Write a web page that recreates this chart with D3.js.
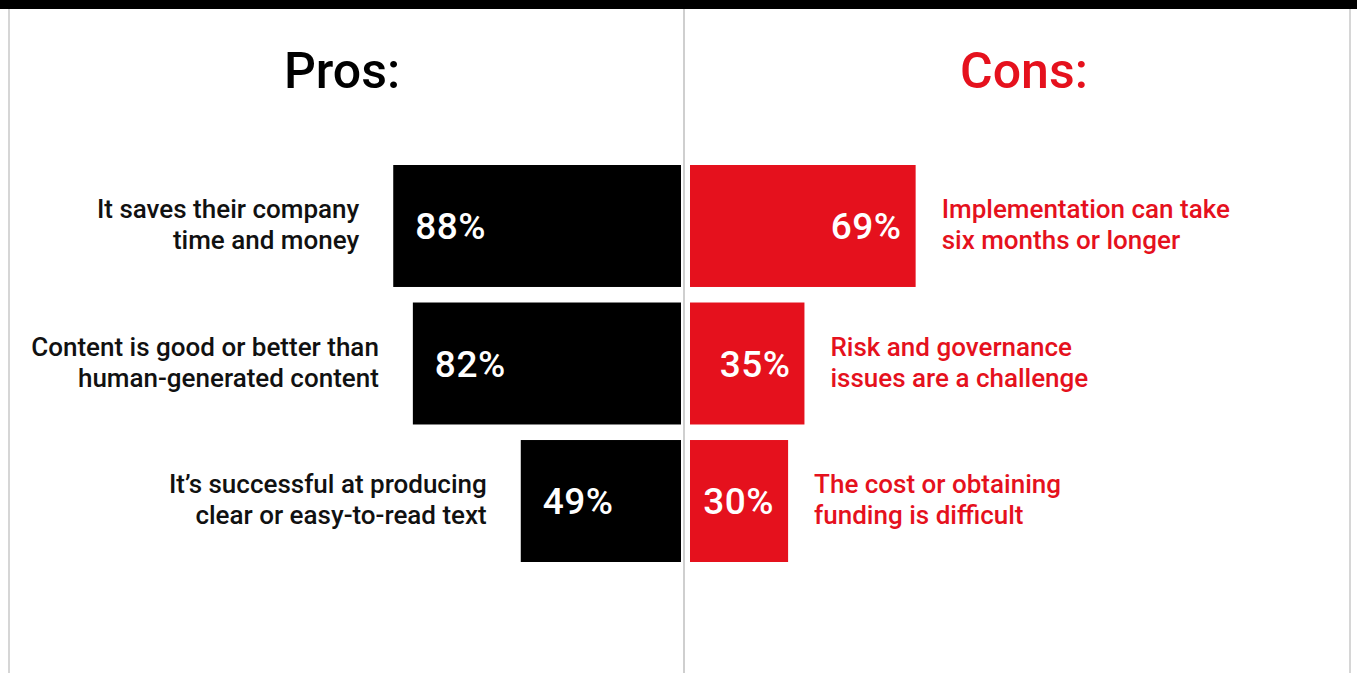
<!DOCTYPE html>
<html>
<head>
<meta charset="utf-8">
<script src="https://cdn.jsdelivr.net/npm/d3@7"></script>
<style>
  body { margin: 0; background: #fff; }
  svg { display: block; font-family: Roboto, "Noto Sans", sans-serif; }
</style>
</head>
<body>
<svg id="chart" width="1357" height="673"></svg>
<script>
// data
const prosLabels = [
  ["It saves their company", "time and money"],
  ["Content is good or better than", "human-generated content"],
  ["It\u2019s successful at producing", "clear or easy-to-read text"],
];
const prosValues = [88, 82, 49];

const consLabels = [
  ["Implementation can take", "six months or longer"],
  ["Risk and governance", "issues are a challenge"],
  ["The cost or obtaining", "funding is difficult"],
];
const consValues = [69, 35, 30];

const rows = [0, 1, 2];

const svg = d3.select("#chart");
const width = +svg.attr("width");
const height = +svg.attr("height");

const RED = "#e5111d";
const mid = 684;

// frame
svg.append("rect").attr("x", 0).attr("y", 0).attr("width", width).attr("height", 9).attr("fill", "#000");
svg.append("line").attr("x1", 9).attr("x2", 9).attr("y1", 9).attr("y2", height)
  .attr("stroke", "#d6d6d6").attr("stroke-width", 2);
svg.append("line").attr("x1", 1350).attr("x2", 1350).attr("y1", 9).attr("y2", height)
  .attr("stroke", "#d6d6d6").attr("stroke-width", 2);
svg.append("line").attr("x1", mid).attr("x2", mid).attr("y1", 9).attr("y2", height)
  .attr("stroke", "#cfcfcf").attr("stroke-width", 2);

// titles
svg.append("text").attr("x", 342).attr("y", 88).attr("text-anchor", "middle")
  .attr("font-size", 50).attr("font-weight", 500).attr("fill", "#000").text("Pros:");
svg.append("text").attr("x", 1024).attr("y", 88).attr("text-anchor", "middle")
  .attr("font-size", 50).attr("font-weight", 500).attr("fill", RED).text("Cons:");

// scales
const y = d3.scaleBand().domain(rows).range([165, 562]).paddingInner(0.113);
const x = d3.scaleLinear().domain([0, 100]).range([0, 327]);

const prosRight = 681;
const consLeft = 690;

// pros bars
const pros = svg.append("g").attr("class", "pros")
  .selectAll("g").data(rows).enter().append("g");

pros.append("rect")
  .attr("x", (i) => prosRight - x(prosValues[i]))
  .attr("y", (i) => y(i))
  .attr("width", (i) => x(prosValues[i]))
  .attr("height", y.bandwidth())
  .attr("fill", "#000");

pros.append("text")
  .attr("x", (i) => prosRight - x(prosValues[i]) + 22)
  .attr("y", (i) => y(i) + y.bandwidth() / 2 + 13)
  .attr("font-size", 37).attr("font-weight", 500).attr("letter-spacing", 0.5).attr("fill", "#fff")
  .text((i) => prosValues[i] + "%");

pros.append("text")
  .attr("text-anchor", "end")
  .attr("font-size", 26).attr("font-weight", 500).attr("fill", "#111")
  .selectAll("tspan").data((i) => prosLabels[i].map((t, k) => ({ i, t, k }))).enter()
  .append("tspan")
  .attr("x", (d) => prosRight - x(prosValues[d.i]) - 34)
  .attr("y", (d) => y(d.i) + y.bandwidth() / 2 - 8 + d.k * 31)
  .text((d) => d.t);

// cons bars
const cons = svg.append("g").attr("class", "cons")
  .selectAll("g").data(rows).enter().append("g");

cons.append("rect")
  .attr("x", consLeft)
  .attr("y", (i) => y(i))
  .attr("width", (i) => x(consValues[i]))
  .attr("height", y.bandwidth())
  .attr("fill", RED);

cons.append("text")
  .attr("text-anchor", "end")
  .attr("x", (i) => consLeft + x(consValues[i]) - 14)
  .attr("y", (i) => y(i) + y.bandwidth() / 2 + 13)
  .attr("font-size", 37).attr("font-weight", 500).attr("letter-spacing", 0.5).attr("fill", "#fff")
  .text((i) => consValues[i] + "%");

cons.append("text")
  .attr("font-size", 26).attr("font-weight", 500).attr("fill", RED)
  .selectAll("tspan").data((i) => consLabels[i].map((t, k) => ({ i, t, k }))).enter()
  .append("tspan")
  .attr("x", (d) => consLeft + x(consValues[d.i]) + 26)
  .attr("y", (d) => y(d.i) + y.bandwidth() / 2 - 8 + d.k * 31)
  .text((d) => d.t);
</script>
</body>
</html>
